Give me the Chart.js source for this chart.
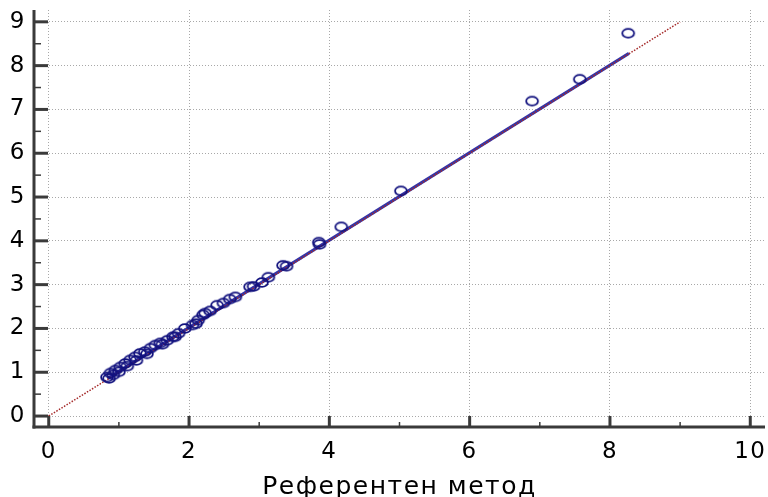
<!DOCTYPE html>
<html>
<head>
<meta charset="utf-8">
<script src="https://cdn.jsdelivr.net/npm/chart.js@4/dist/chart.umd.min.js"></script>
<style>
  html, body { margin: 0; padding: 0; background: #fff; }
  #wrap { width: 768px; height: 497px; }
</style>
</head>
<body>
<div id="wrap"><canvas id="c" width="768" height="497"></canvas></div>
<script>
// Reference method (x) against the tested method (y)
const refValues = [
  0.83, 0.88, 0.95, 1.02, 1.09, 1.16, 1.23, 1.30, 1.37, 1.45, 1.52, 1.59, 1.69, 1.77, 1.85, 1.94, 2.05, 2.13, 2.20,
  0.86, 0.92, 1.00, 1.12, 1.25, 1.40, 1.62, 1.80, 2.10,
  2.23, 2.30, 2.40, 2.49, 2.58, 2.66, 2.87, 2.92, 3.04, 3.13, 3.34, 3.39,
  3.85, 3.86, 4.17, 5.02, 6.89, 7.57, 8.26
];
const testValues = [
  0.89, 0.98, 1.05, 1.12, 1.20, 1.28, 1.35, 1.43, 1.47, 1.55, 1.62, 1.67, 1.73, 1.81, 1.89, 2.00, 2.08, 2.19, 2.31,
  0.86, 0.94, 1.01, 1.14, 1.27, 1.42, 1.64, 1.81, 2.11,
  2.35, 2.40, 2.53, 2.58, 2.67, 2.72, 2.95, 2.96, 3.05, 3.17, 3.44, 3.42,
  3.97, 3.92, 4.32, 5.14, 7.19, 7.69, 8.74
];
// Fitted regression line end points
const fitX = [0.84, 8.27];
const fitY = [0.86, 8.28];
// Line of identity y = x
const identityX = [0, 9];
const identityY = [0, 9];

const xTicks = [0, 2, 4, 6, 8, 10];
const xMinorTicks = [1, 3, 5, 7, 9];
const yTicks = [0, 1, 2, 3, 4, 5, 6, 7, 8, 9];
const yMinorTicks = [0.5, 1.5, 2.5, 3.5, 4.5, 5.5, 6.5, 7.5, 8.5];
const xTitle = 'Референтен метод';

const FONT = '"DejaVu Sans", sans-serif';

// Open ellipse marker
function makeMarker() {
  const cv = document.createElement('canvas');
  cv.width = 16; cv.height = 13;
  const g = cv.getContext('2d');
  g.strokeStyle = '#12127e';
  g.lineWidth = 1.8;
  g.beginPath();
  g.ellipse(8, 6.5, 5.9, 4.4, 0, 0, Math.PI * 2);
  g.stroke();
  return cv;
}

const pts = refValues.map((v, i) => ({ x: v, y: testValues[i] }));
const fitPts = fitX.map((v, i) => ({ x: v, y: fitY[i] }));
const idPts = identityX.map((v, i) => ({ x: v, y: identityY[i] }));

// Slightly wider lettering for all chart text
const spacingPlugin = {
  id: 'spacingPlugin',
  beforeInit(chart) { chart.ctx.letterSpacing = '1.5px'; },
  beforeDraw(chart) { chart.ctx.letterSpacing = '1.5px'; }
};

// Axis lines with inward major and minor ticks
const axesPlugin = {
  id: 'axesPlugin',
  afterDatasetsDraw(chart) {
    const { ctx, chartArea: a, scales: { x, y } } = chart;
    ctx.save();
    ctx.strokeStyle = '#3a3a3a';
    ctx.lineCap = 'butt';
    ctx.lineWidth = 3;
    ctx.beginPath();
    ctx.moveTo(a.left, a.top);
    ctx.lineTo(a.left, a.bottom + 1.5);
    ctx.stroke();
    ctx.beginPath();
    ctx.moveTo(a.left - 1.5, a.bottom);
    ctx.lineTo(a.right, a.bottom);
    ctx.stroke();
    // major ticks
    yTicks.forEach(v => {
      const py = y.getPixelForValue(v);
      ctx.beginPath(); ctx.moveTo(a.left, py); ctx.lineTo(a.left + 14, py); ctx.stroke();
    });
    xTicks.forEach(v => {
      const px = x.getPixelForValue(v);
      ctx.beginPath(); ctx.moveTo(px, a.bottom); ctx.lineTo(px, a.bottom - 11); ctx.stroke();
    });
    // minor ticks
    ctx.lineWidth = 1.5;
    yMinorTicks.forEach(v => {
      const py = y.getPixelForValue(v);
      ctx.beginPath(); ctx.moveTo(a.left, py); ctx.lineTo(a.left + 7, py); ctx.stroke();
    });
    xMinorTicks.forEach(v => {
      const px = x.getPixelForValue(v);
      ctx.beginPath(); ctx.moveTo(px, a.bottom); ctx.lineTo(px, a.bottom - 5); ctx.stroke();
    });
    ctx.restore();
  }
};

function noEdgePadding(s) {
  s.paddingTop = 0; s.paddingBottom = 0; s.paddingLeft = 0; s.paddingRight = 0;
}

new Chart(document.getElementById('c'), {
  type: 'scatter',
  data: {
    datasets: [
      {
        label: 'fit',
        type: 'line',
        data: fitPts,
        borderColor: '#3535a8',
        borderWidth: 3,
        pointRadius: 0,
        fill: false,
        order: 2
      },
      {
        label: 'identity',
        type: 'line',
        data: idPts,
        borderColor: '#a52a2a',
        borderWidth: 1.5,
        borderDash: [1.5, 1.5],
        pointRadius: 0,
        fill: false,
        order: 1
      },
      {
        label: 'data',
        data: pts,
        pointStyle: makeMarker(),
        pointRadius: 6,
        order: 0
      }
    ]
  },
  options: {
    responsive: false,
    animation: false,
    devicePixelRatio: 1,
    layout: { autoPadding: false, padding: { left: 0, right: 3, top: 10, bottom: 0 } },
    plugins: { legend: { display: false }, tooltip: { enabled: false } },
    scales: {
      x: {
        type: 'linear',
        min: -0.21,
        max: 10.21,
        afterBuildTicks(s) { s.ticks = xTicks.map(v => ({ value: v })); },
        afterFit(s) { s.height = 70; noEdgePadding(s); },
        border: { display: false, dash: [1, 2] },
        grid: { color: '#a8a8a8', lineWidth: 1, drawTicks: false },
        ticks: {
          font: { family: FONT, size: 23 },
          color: '#000',
          padding: 11,
          maxRotation: 0,
          callback: v => String(v)
        },
        title: {
          display: true,
          text: xTitle,
          font: { family: FONT, size: 25, lineHeight: 1.2 },
          color: '#000',
          padding: { top: 0, bottom: -5 }
        }
      },
      y: {
        type: 'linear',
        min: -0.25,
        max: 9.27,
        afterBuildTicks(s) { s.ticks = yTicks.map(v => ({ value: v })); },
        afterFit(s) { s.width = 34; noEdgePadding(s); },
        border: { display: false, dash: [1, 2] },
        grid: { color: '#a8a8a8', lineWidth: 1, drawTicks: false },
        ticks: {
          font: { family: FONT, size: 23 },
          color: '#000',
          padding: 8,
          callback: v => String(v)
        }
      }
    }
  },
  plugins: [spacingPlugin, axesPlugin]
});
</script>
</body>
</html>
